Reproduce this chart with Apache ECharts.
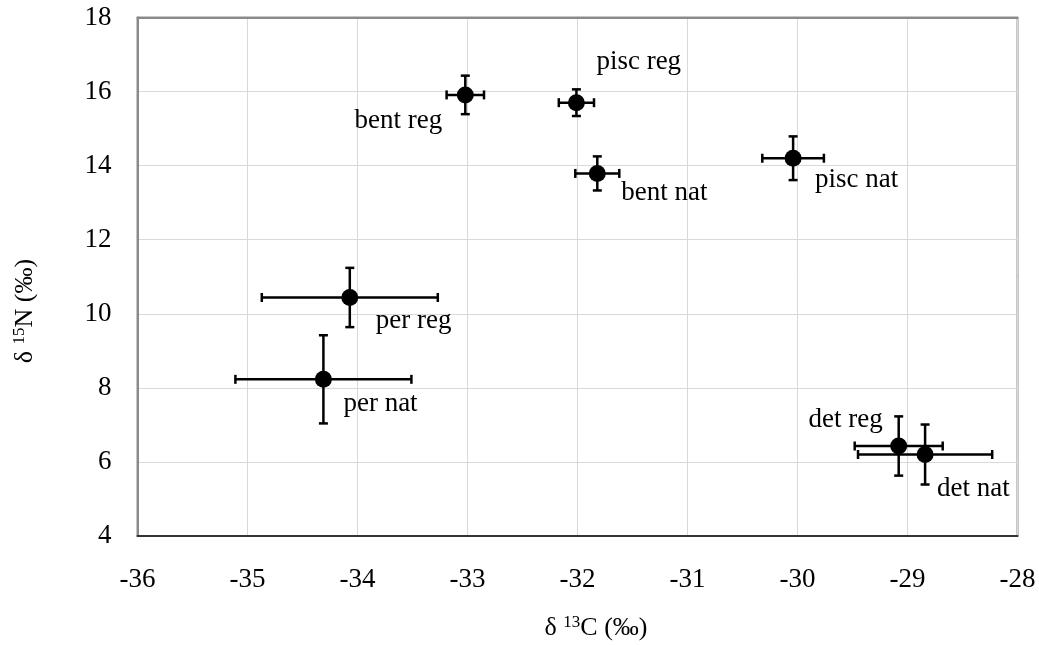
<!DOCTYPE html>
<html>
<head>
<meta charset="utf-8">
<script src="https://cdn.jsdelivr.net/npm/echarts@6/dist/echarts.min.js"></script>
<style>
html,body{margin:0;padding:0;background:#fff;}
#chart{width:1039px;height:645px;}
</style>
</head>
<body>
<div id="chart"></div>
<script>
// ---- data ----
const groupNames = ['bent reg', 'pisc reg', 'bent nat', 'pisc nat', 'per reg', 'per nat', 'det reg', 'det nat'];
const d13C      = [-33.02, -32.01, -31.82, -30.04, -34.07, -34.31, -29.08, -28.84];
const d15N      = [15.91, 15.70, 13.79, 14.20, 10.44, 8.23, 6.43, 6.20];
const d13CErr   = [0.17, 0.16, 0.20, 0.28, 0.80, 0.80, 0.40, 0.61];
const d15NErr   = [0.52, 0.36, 0.46, 0.59, 0.80, 1.19, 0.80, 0.81];
const xTickLabels = ['-36', '-35', '-34', '-33', '-32', '-31', '-30', '-29', '-28'];
const yTickLabels = ['4', '6', '8', '10', '12', '14', '16', '18'];

// ---- label placement (styling only), offsets from the point centre ----
const labelStyle = [
  {align: 'right', offset: [-23, 26]},  // bent reg
  {align: 'left',  offset: [20, -41]},  // pisc reg
  {align: 'left',  offset: [24, 19]},   // bent nat
  {align: 'left',  offset: [22, 22]},   // pisc nat
  {align: 'left',  offset: [26, 23]},   // per reg
  {align: 'left',  offset: [20, 25]},   // per nat
  {align: 'right', offset: [-16, -26]}, // det reg
  {align: 'left',  offset: [12, 34]}    // det nat
];

const FONT = "'Liberation Serif', 'Times New Roman', serif";
const SYM = 17;

const xMin = Number(xTickLabels[0]), xMax = Number(xTickLabels[xTickLabels.length - 1]);
const yMin = Number(yTickLabels[0]), yMax = Number(yTickLabels[yTickLabels.length - 1]);

const errData = groupNames.map((n, i) => [d13C[i], d15N[i], d13CErr[i], d15NErr[i]]);
const pointData = groupNames.map((n, i) => ({
  name: n,
  value: [d13C[i], d15N[i]],
  label: {
    show: true,
    position: [labelStyle[i].offset[0] + SYM / 2, labelStyle[i].offset[1] + SYM / 2],
    formatter: '{b}',
    align: labelStyle[i].align,
    verticalAlign: 'middle',
    color: '#000',
    fontFamily: FONT,
    fontSize: 27
  }
}));

const CAP = 4.5;
function renderErr(params, api) {
  const x = api.value(0), y = api.value(1), ex = api.value(2), ey = api.value(3);
  const l = api.coord([x - ex, y]);
  const r = api.coord([x + ex, y]);
  const t = api.coord([x, y + ey]);
  const b = api.coord([x, y - ey]);
  const st = {stroke: '#000', lineWidth: 2.5};
  const mk = (x1, y1, x2, y2) => ({type: 'line', shape: {x1, y1, x2, y2}, style: st});
  return {
    type: 'group',
    children: [
      mk(l[0], l[1], r[0], r[1]),
      mk(l[0], l[1] - CAP, l[0], l[1] + CAP),
      mk(r[0], r[1] - CAP, r[0], r[1] + CAP),
      mk(t[0], t[1], b[0], b[1]),
      mk(t[0] - CAP, t[1], t[0] + CAP, t[1]),
      mk(b[0] - CAP, b[1], b[0] + CAP, b[1])
    ]
  };
}

const chart = echarts.init(document.getElementById('chart'), null, {renderer: 'canvas'});
const titleRich = {
  n: {fontFamily: FONT, fontSize: 26, color: '#000'},
  s: {fontFamily: FONT, fontSize: 17, color: '#000', padding: [0, 0, 11, 0]}
};
chart.setOption({
  animation: false,
  backgroundColor: '#fff',
  grid: {left: 137.5, right: 21.5, top: 17.5, bottom: 109, show: true, borderColor: '#222', borderWidth: 1.5, backgroundColor: 'transparent'},
  xAxis: [{
    type: 'value', min: xMin, max: xMax, interval: 1,
    axisLine: {show: true, onZero: false, lineStyle: {color: '#333', width: 2}},
    axisTick: {show: false},
    splitLine: {show: true, lineStyle: {color: '#d9d9d9', width: 1}},
    axisLabel: {color: '#000', fontFamily: FONT, fontSize: 27, margin: 30,
      formatter: v => xTickLabels[Math.round(v - xMin)]}
  }, {
    type: 'value', position: 'top', min: xMin, max: xMax, interval: 1,
    axisLine: {show: true, lineStyle: {color: '#8a8a8a', width: 2}},
    axisTick: {show: false}, axisLabel: {show: false}, splitLine: {show: false}
  }],
  yAxis: {
    type: 'value', min: yMin, max: yMax, interval: 2,
    axisLine: {show: true, onZero: false, lineStyle: {color: '#8a8a8a', width: 2}},
    axisTick: {show: false},
    splitLine: {show: true, lineStyle: {color: '#d9d9d9', width: 1}},
    axisLabel: {color: '#000', fontFamily: FONT, fontSize: 27, margin: 26,
      formatter: v => yTickLabels[Math.round((v - yMin) / 2)]}
  },
  graphic: [
    {type: 'text', x: 596, y: 628, z: 100,
      style: {text: '{n|δ }{s|13}{n|C (‰)}', rich: titleRich, align: 'center', verticalAlign: 'middle'}},
    {type: 'text', x: 25, y: 311, rotation: Math.PI / 2, z: 100,
      style: {text: '{n|δ }{s|15}{n|N (‰)}', rich: titleRich, align: 'center', verticalAlign: 'middle'}}
  ],
  series: [
    {type: 'custom', renderItem: renderErr, data: errData, z: 3, silent: true,
      encode: {x: 0, y: 1}},
    {type: 'scatter', data: pointData, symbol: 'circle', symbolSize: SYM, z: 5,
      itemStyle: {color: '#000', opacity: 1}, labelLayout: {hideOverlap: false}}
  ]
});
</script>
</body>
</html>
